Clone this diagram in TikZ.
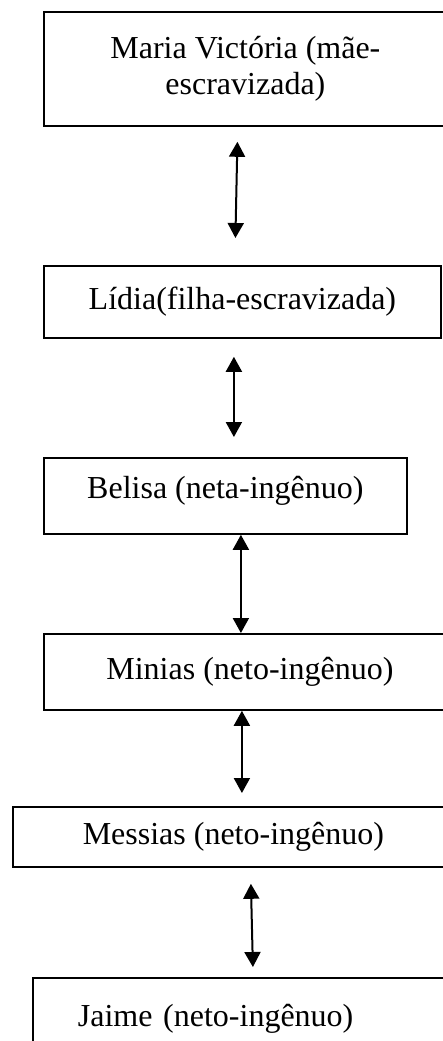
\documentclass[tikz,border=0pt]{standalone}
\usepackage{fontspec}
\setmainfont{Liberation Serif}
\usetikzlibrary{arrows.meta,positioning}

\begin{document}
\begin{tikzpicture}[x=1pt, y=-1pt,
        person/.style={rectangle, draw, line width=1.8pt, inner sep=0pt, anchor=north west, align=center, font=\fontsize{32}{36}\selectfont},
        arrow/.style={{Triangle[width=16pt,length=15pt]}-{Triangle[width=16pt,length=15pt]}, line width=2pt}]

        \useasboundingbox (0,0) rectangle (442,1041);

        \node[person, minimum width=403pt, minimum height=114pt] (maria) at (43,11) {Maria Victória (mãe-\\escravizada)};
        \node[person, minimum width=397pt, minimum height=72pt] (lidia) at (43,265) {Lídia(filha-escravizada)};
        \node[person, minimum width=363pt, minimum height=76pt, text depth=18pt] (belisa) at (43,457) {Belisa (neta-ingênuo)};
        \node[person, minimum width=412pt, minimum height=76pt] (minias) at (43,633) {Minias (neto-ingênuo)};
        \node[person, minimum width=441pt, minimum height=60pt] (messias) at (12,806) {Messias (neto-ingênuo)};
        \node[person, minimum height=82pt, text width=380pt, align=left, inner xsep=45pt] (jaime) at (32,977) {Jaime (neto-ingênuo)};

        \draw[arrow] ([xshift=-8pt, yshift=-15pt]maria.south) -- ([xshift=-7pt, yshift=27pt]lidia.north);
        \draw[arrow] ([xshift=-8.5pt, yshift=-18pt]lidia.south) -- ([xshift=8.5pt, yshift=20pt]belisa.north);
        \draw[arrow] ([xshift=15.5pt]belisa.south) -- ([xshift=-9pt]minias.north);
        \draw[arrow] ([xshift=-8pt]minias.south) -- ([xshift=8.5pt, yshift=13pt]messias.north);
        \draw[arrow] ([xshift=17.5pt, yshift=-16pt]messias.south) -- ([xshift=-15pt, yshift=10pt]jaime.north);
\end{tikzpicture}
\end{document}
